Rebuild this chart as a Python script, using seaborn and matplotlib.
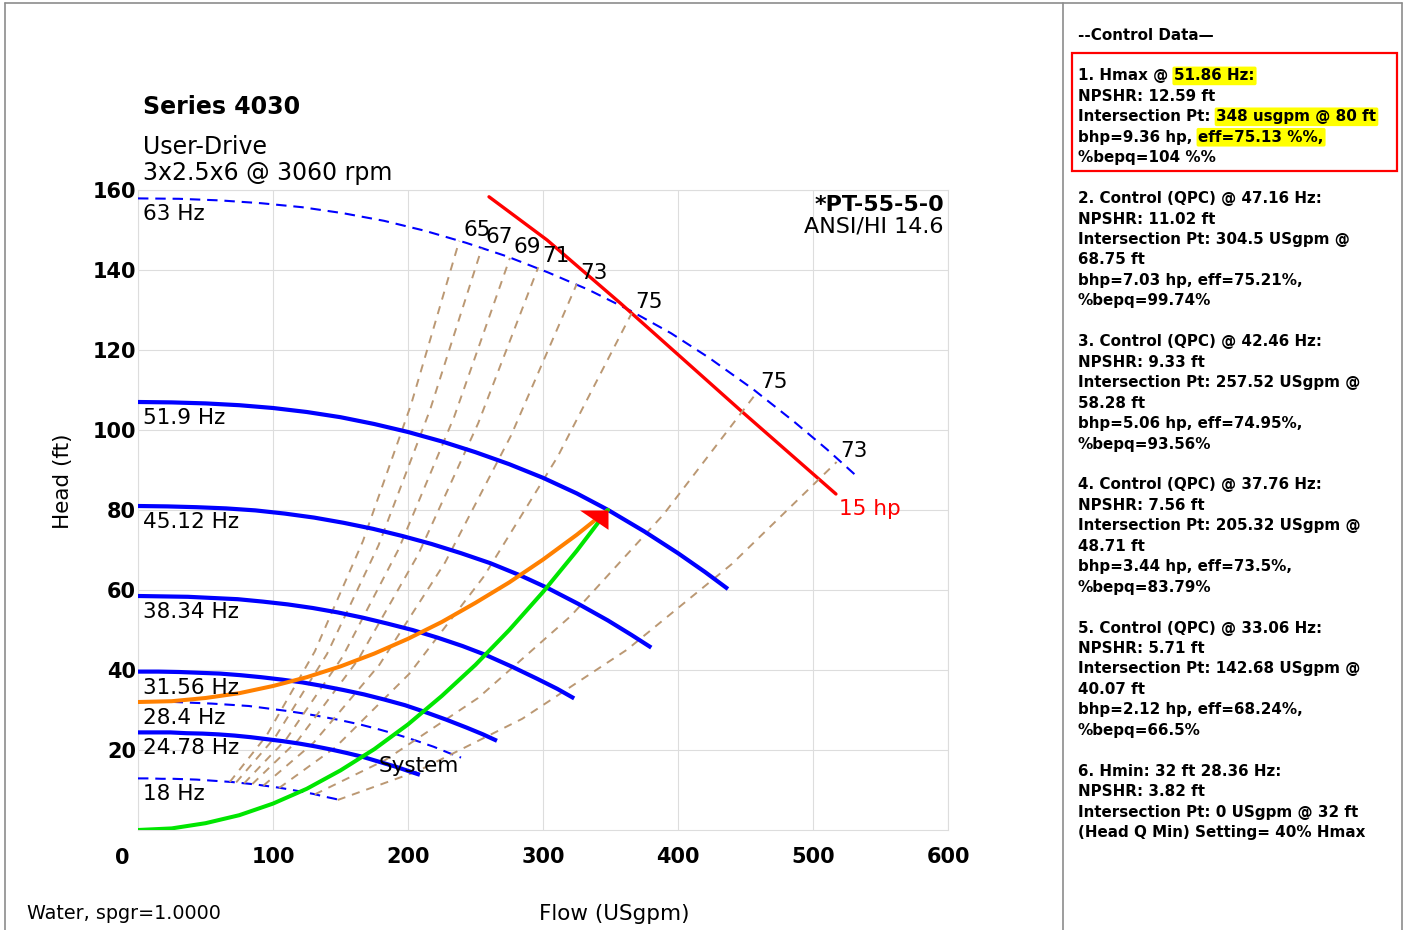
import numpy as np
import pandas as pd
import matplotlib
matplotlib.use("Agg")
import matplotlib.pyplot as plt
from matplotlib.lines import Line2D
from matplotlib.patches import Rectangle
import seaborn as sns

# pump curves at each speed: flow (USgpm), head (ft)
q_63 = [0, 30.4, 60.7, 91.1, 121.5, 151.9, 182.2, 212.6, 243.0, 273.3, 303.7, 334.1, 364.4, 394.8, 422.8, 455.6, 485.9, 510.2, 530.9]
h_63 = [157.9, 157.8, 157.4, 156.7, 155.7, 154.2, 152.3, 149.8, 146.8, 143.4, 139.4, 135.0, 129.9, 124.2, 118.1, 110.2, 102.1, 95.2, 88.9]
q_519 = [0, 25, 50, 75, 100, 125, 150, 175, 200, 225, 250, 275, 300, 325, 348, 375, 400, 420, 437]
h_519 = [107.0, 106.9, 106.65, 106.2, 105.5, 104.5, 103.2, 101.5, 99.5, 97.15, 94.45, 91.45, 88.05, 84.15, 80.05, 74.65, 69.2, 64.5, 60.25]
q_4512 = [0, 21.8, 43.5, 65.3, 87.0, 108.8, 130.5, 152.3, 174.0, 195.8, 217.5, 239.3, 261.0, 282.8, 302.8, 326.3, 348.0, 365.4, 380.2]
h_4512 = [81.0, 80.9, 80.7, 80.4, 79.9, 79.1, 78.1, 76.8, 75.3, 73.5, 71.5, 69.2, 66.7, 63.7, 60.6, 56.5, 52.4, 48.8, 45.6]
q_3834 = [0, 18.5, 37.0, 55.4, 73.9, 92.4, 110.9, 129.4, 147.9, 166.3, 184.8, 203.3, 221.8, 240.3, 257.3, 277.2, 295.7, 310.5, 323.1]
h_3834 = [58.5, 58.4, 58.3, 58.0, 57.7, 57.1, 56.4, 55.5, 54.4, 53.1, 51.6, 50.0, 48.1, 46.0, 43.8, 40.8, 37.8, 35.3, 32.9]
q_3156 = [0, 15.2, 30.4, 45.6, 60.9, 76.1, 91.3, 106.5, 121.7, 136.9, 152.1, 167.4, 182.6, 197.8, 211.8, 228.2, 243.4, 255.6, 265.9]
h_3156 = [39.6, 39.6, 39.5, 39.3, 39.1, 38.7, 38.2, 37.6, 36.9, 36.0, 35.0, 33.9, 32.6, 31.2, 29.6, 27.6, 25.6, 23.9, 22.3]
q_284 = [0, 13.7, 27.4, 41.1, 54.8, 68.5, 82.1, 95.8, 109.5, 123.2, 136.9, 150.6, 164.3, 178.0, 190.6, 205.4, 219.1, 230.0, 239.3]
h_284 = [32.1, 32.1, 32.0, 31.8, 31.6, 31.3, 31.0, 30.4, 29.8, 29.1, 28.3, 27.4, 26.4, 25.2, 24.0, 22.4, 20.8, 19.3, 18.1]
q_2478 = [0, 11.9, 23.9, 35.8, 47.8, 59.7, 71.7, 83.6, 95.6, 107.5, 119.5, 131.4, 143.3, 155.3, 166.3, 179.2, 191.1, 200.7, 208.8]
h_2478 = [24.4, 24.4, 24.4, 24.2, 24.1, 23.9, 23.6, 23.2, 22.7, 22.2, 21.6, 20.9, 20.1, 19.2, 18.3, 17.0, 15.8, 14.7, 13.8]
q_18 = [0, 8.7, 17.4, 26.0, 34.7, 43.4, 52.1, 60.7, 69.4, 78.1, 86.8, 95.4, 104.1, 112.8, 120.8, 130.2, 138.8, 145.8, 151.7]
h_18 = [12.9, 12.9, 12.8, 12.8, 12.7, 12.6, 12.4, 12.2, 12.0, 11.7, 11.4, 11.0, 10.6, 10.1, 9.6, 9.0, 8.3, 7.8, 7.3]

speed_labels = ["63 Hz", "51.9 Hz", "45.12 Hz", "38.34 Hz", "31.56 Hz", "28.4 Hz", "24.78 Hz", "18 Hz"]
speed_q = [q_63, q_519, q_4512, q_3834, q_3156, q_284, q_2478, q_18]
speed_h = [h_63, h_519, h_4512, h_3834, h_3156, h_284, h_2478, h_18]
speed_dashed = [True, False, False, False, False, True, False, True]

# iso-efficiency lines (from 18 Hz up to 63 Hz)
eff_labels = ["65", "67", "69", "71", "73", "75", "75", "73"]
eff_q = [
    [68.0, 95.2, 130.9, 166.6, 202.3, 238.0],
    [72.7, 101.8, 140.0, 178.2, 216.4, 254.6],
    [78.7, 110.2, 151.5, 192.9, 234.2, 275.5],
    [84.7, 118.6, 163.1, 207.6, 252.0, 296.5],
    [92.9, 130.0, 178.8, 227.5, 276.3, 325.0],
    [104.5, 146.3, 201.1, 256.0, 310.8, 365.7],
    [130.9, 183.2, 251.9, 320.6, 389.3, 458.0],
    [147.9, 207.0, 284.6, 362.3, 439.9, 517.5],
]
eff_h = [
    [12.0, 23.6, 44.6, 72.2, 106.4, 147.3],
    [11.9, 23.3, 44.0, 71.2, 105.1, 145.4],
    [11.7, 22.9, 43.3, 70.1, 103.3, 143.0],
    [11.5, 22.5, 42.6, 68.9, 101.7, 140.7],
    [11.1, 21.8, 41.3, 66.9, 98.6, 136.5],
    [10.5, 20.7, 39.1, 63.3, 93.3, 129.2],
    [8.9, 17.5, 33.0, 53.5, 78.9, 109.2],
    [7.5, 14.7, 27.8, 45.1, 66.5, 92.0],
]

# 15 hp power limit
q_hp = [260, 303, 357, 446, 517]
h_hp = [158.3, 147.5, 131.8, 105.0, 84.0]

# control curve and system curve
q_ctrl = [0, 25, 50, 75, 100, 125, 150, 175, 200, 225, 250, 275, 300, 325, 348]
h_ctrl = [32.0, 32.2, 33.0, 34.2, 36.0, 38.2, 40.9, 44.1, 47.8, 52.0, 56.8, 61.9, 67.6, 73.8, 80.0]
q_sys = [0, 25, 50, 75, 100, 125, 150, 175, 200, 225, 250, 275, 300, 325, 348]
h_sys = [0, 0.4, 1.7, 3.7, 6.6, 10.3, 14.9, 20.2, 26.4, 33.5, 41.3, 50.0, 59.5, 69.8, 80.0]
op_q, op_h = 348, 80

x_ticks = [0, 100, 200, 300, 400, 500, 600]
y_ticks = [20, 40, 60, 80, 100, 120, 140, 160]

panel = [
    [("--Control Data\u2014", False)],
    [],
    [("1. Hmax @", False), ("51.86 Hz:", True)],
    [("NPSHR: 12.59 ft", False)],
    [("Intersection Pt:", False), ("348 usgpm @ 80 ft", True)],
    [("bhp=9.36 hp,", False), ("eff=75.13 %%,", True)],
    [("%bepq=104 %%", False)],
    [],
    [("2. Control (QPC) @ 47.16 Hz:", False)],
    [("NPSHR: 11.02 ft", False)],
    [("Intersection Pt: 304.5 USgpm @", False)],
    [("68.75 ft", False)],
    [("bhp=7.03 hp, eff=75.21%,", False)],
    [("%bepq=99.74%", False)],
    [],
    [("3. Control (QPC) @ 42.46 Hz:", False)],
    [("NPSHR: 9.33 ft", False)],
    [("Intersection Pt: 257.52 USgpm @", False)],
    [("58.28 ft", False)],
    [("bhp=5.06 hp, eff=74.95%,", False)],
    [("%bepq=93.56%", False)],
    [],
    [("4. Control (QPC) @ 37.76 Hz:", False)],
    [("NPSHR: 7.56 ft", False)],
    [("Intersection Pt: 205.32 USgpm @", False)],
    [("48.71 ft", False)],
    [("bhp=3.44 hp, eff=73.5%,", False)],
    [("%bepq=83.79%", False)],
    [],
    [("5. Control (QPC) @ 33.06 Hz:", False)],
    [("NPSHR: 5.71 ft", False)],
    [("Intersection Pt: 142.68 USgpm @", False)],
    [("40.07 ft", False)],
    [("bhp=2.12 hp, eff=68.24%,", False)],
    [("%bepq=66.5%", False)],
    [],
    [("6. Hmin: 32 ft 28.36 Hz:", False)],
    [("NPSHR: 3.82 ft", False)],
    [("Intersection Pt: 0 USgpm @ 32 ft", False)],
    [("(Head Q Min) Setting= 40% Hmax", False)],
]

sns.set_style("white")
plt.rcParams["font.family"] = ["DejaVu Sans"]
plt.rcParams["text.color"] = "black"
plt.rcParams["xtick.color"] = "black"
plt.rcParams["ytick.color"] = "black"
plt.rcParams["axes.labelcolor"] = "black"

W, H = 1408, 930
fig = plt.figure(figsize=(W / 100, H / 100), dpi=100)

def fx(px):
    return px / W

def fy(py):
    return 1 - py / H

ax = fig.add_axes([fx(138), fy(830), fx(948) - fx(138), fy(190) - fy(830)])

blue = "#0000ff"
tan = "#bb9873"

# speed curves
for lab, q, h, dashed in zip(speed_labels, speed_q, speed_h, speed_dashed):
    if dashed:
        sns.lineplot(x=q, y=h, ax=ax, color=blue, lw=1.5, linestyle=(0, (5, 3.3)),
                     sort=False, estimator=None, zorder=3)
    else:
        sns.lineplot(x=q, y=h, ax=ax, color=blue, lw=3.0, sort=False, estimator=None,
                     zorder=6, solid_capstyle="butt", solid_joinstyle="round")
    ax.annotate(lab, xy=(q[0], h[0]), xytext=(5, -22), textcoords="offset pixels",
                ha="left", va="baseline", fontsize=15.5, zorder=10)

# 15 hp line
sns.lineplot(x=q_hp, y=h_hp, ax=ax, color="#ff0000", lw=2.4, sort=False, estimator=None, zorder=4)
ax.annotate("15 hp", xy=(q_hp[-1], h_hp[-1]), xytext=(3, -21), textcoords="offset pixels",
            ha="left", va="baseline", fontsize=15.5, color="#ff0000")

# efficiency lines
for lab, q, h in zip(eff_labels, eff_q, eff_h):
    sns.lineplot(x=q, y=h, ax=ax, color=tan, lw=1.4, linestyle=(0, (4.2, 3.6)),
                 sort=False, estimator=None, zorder=5)
    ax.annotate(lab, xy=(q[-1], h[-1]), xytext=(4, 5), textcoords="offset pixels",
                ha="left", va="baseline", fontsize=15.5, zorder=10)

# control and system curves
sns.lineplot(x=q_ctrl, y=h_ctrl, ax=ax, color="#ff8000", lw=2.9, sort=False, estimator=None, zorder=7)
sns.lineplot(x=q_sys, y=h_sys, ax=ax, color="#00e600", lw=2.9, sort=False, estimator=None, zorder=8)
ax.text(178, 14.5, "System", fontsize=15.5, ha="left", va="baseline", zorder=10)

# operating point arrow head
tri = [(0, 0), (-1, 0), (0, -0.68), (0, 0)]
ax.plot([op_q], [op_h], marker=tri, markersize=41, color="#ff0000", mec="none",
        linestyle="none", zorder=9, clip_on=False)

ax.set_xlim(0, 600)
ax.set_ylim(0, 160)
ax.set_xticks(x_ticks)
ax.set_xticklabels([""] + [str(v) for v in x_ticks[1:]])
ax.set_yticks(y_ticks)
ax.set_yticklabels([str(v) for v in y_ticks])
ax.tick_params(axis="both", length=0, labelsize=15, colors="black")
ax.tick_params(axis="x", pad=12.5)
ax.tick_params(axis="y", pad=1.5)
for lbl in ax.get_xticklabels() + ax.get_yticklabels():
    lbl.set_fontweight("bold")
ax.annotate("0", xy=(0, 0), xycoords=("data", "axes fraction"), xytext=(-9, -17.5),
            textcoords="offset pixels", ha="right", va="top", fontsize=15,
            fontweight="bold", annotation_clip=False)
ax.grid(True, color="#dddddd", lw=0.8)
ax.set_axisbelow(True)
for sp in ax.spines.values():
    sp.set_color("#dddddd")
    sp.set_linewidth(0.8)
ax.set_xlabel("")
ax.set_ylabel("")

# titles
fig.text(fx(143), fy(114), "Series 4030", fontsize=17, fontweight="bold", va="baseline")
fig.text(fx(143), fy(154), "User-Drive", fontsize=17, va="baseline")
fig.text(fx(143), fy(180), "3x2.5x6 @ 3060 rpm", fontsize=17, va="baseline")
fig.text(fx(944), fy(211), "*PT-55-5-0", fontsize=16, fontweight="bold", ha="right", va="baseline")
fig.text(fx(944), fy(232), "ANSI/HI 14.6", fontsize=16, ha="right", va="baseline")
fig.text(fx(63), fy(481), "Head (ft)", fontsize=15.5, rotation=90, ha="center", va="center")
fig.text(fx(614), fy(914), "Flow (USgpm)", fontsize=15.5, ha="center", va="center")
fig.text(fx(27), fy(913), "Water, spgr=1.0000", fontsize=13.8, ha="left", va="center")

# control data panel
hl = dict(boxstyle="round,pad=0.12", fc="#ffff00", ec="none")
for i, segs in enumerate(panel):
    if not segs:
        continue
    y = fy(35 + i * 20.45)
    prev = None
    for txt, mark in segs:
        kw = dict(fontsize=10.9, fontweight="bold", ha="left", color="black")
        if mark:
            kw["bbox"] = hl
        if prev is None:
            prev = fig.text(fx(1078), y, txt, va="center", **kw)
        else:
            prev = ax.annotate(txt, xy=(1, 0), xycoords=prev, xytext=(6, 0),
                               textcoords="offset pixels", va="bottom", **kw)

fig.add_artist(Rectangle((fx(1072), fy(171)), fx(1397) - fx(1072), fy(53) - fy(171),
                         fill=False, ec="#ff0000", lw=1.6, transform=fig.transFigure))

# frame lines
for xs, ys in [([5, 5], [3, 930]), ([5, 1402], [3, 3]), ([1402, 1402], [3, 930]),
               ([1063, 1063], [3, 930])]:
    fig.add_artist(Line2D([fx(v) for v in xs], [fy(v) for v in ys], color="#8c8c8c",
                          lw=1.2, transform=fig.transFigure))

fig.savefig("out.png", dpi=100)
